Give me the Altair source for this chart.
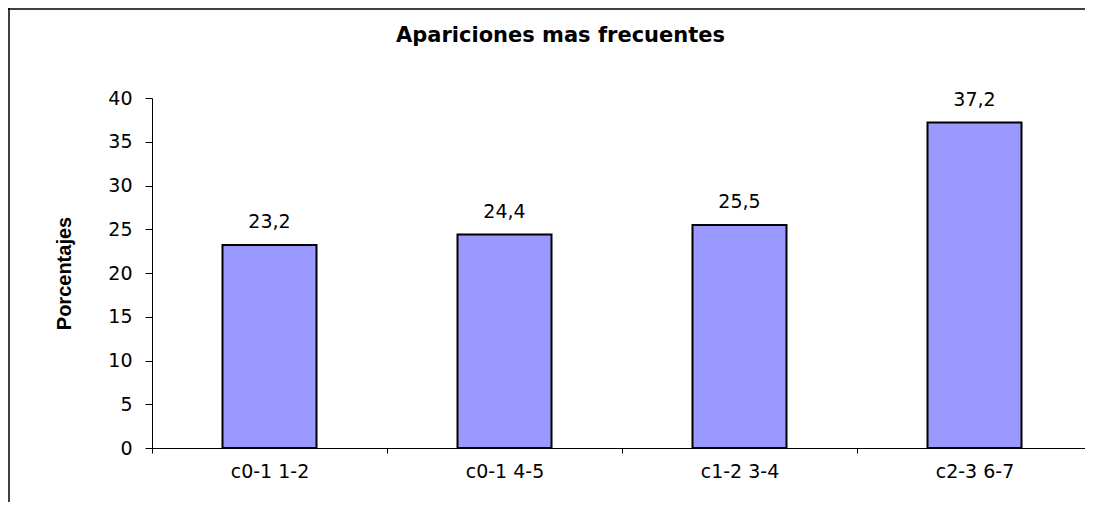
import altair as alt
import pandas as pd

categories = ["c0-1 1-2", "c0-1 4-5", "c1-2 3-4", "c2-3 6-7"]
values = [23.2, 24.4, 25.5, 37.2]
labels = ["23,2", "24,4", "25,5", "37,2"]
y_ticks = [0, 5, 10, 15, 20, 25, 30, 35, 40]

df = pd.DataFrame({"cat": categories, "val": values, "lab": labels})

FONT = "DejaVu Sans"
TFONT = "Liberation Sans"

x_enc = alt.X("cat:N", sort=categories, title=None,
              scale=alt.Scale(range=[0, 940], paddingInner=0, paddingOuter=0),
              axis=alt.Axis(labelAngle=0, tickBand="extent", labelFontSize=19,
                            labelFont=FONT, labelColor="#000", labelPadding=9,
                            tickSize=5, tickColor="#000", domainColor="#000",
                            domainWidth=1, tickWidth=1, grid=False))
y_enc = alt.Y("val:Q", scale=alt.Scale(domain=[0, 40], nice=False),
              title="Porcentajes",
              axis=alt.Axis(values=y_ticks, labelFontSize=19, labelFont=FONT,
                            labelColor="#000", labelPadding=13, tickSize=7,
                            tickColor="#000", domainColor="#000", grid=False,
                            titleFont=TFONT, titleFontSize=20, titleFontWeight="bold",
                            titleColor="#000", titleX=-88, titleY=175,
                            titleAngle=270, titleAlign="center",
                            titleBaseline="middle"))

bars = alt.Chart(df).mark_bar(
    width=alt.RelativeBandSize(0.4), color="#9999FF", stroke="#000",
    strokeWidth=2
).encode(x=x_enc, y=y_enc)

text = alt.Chart(df).mark_text(
    baseline="alphabetic", dy=-17, fontSize=19, font=FONT, color="#000"
).encode(x=alt.X("cat:N", sort=categories), y="val:Q", text="lab:N")

frame_df = pd.DataFrame({"a": [0]})
frame_top = alt.Chart(frame_df).mark_rule(color="#000", strokeWidth=1.5).encode(
    x=alt.value(-144), x2=alt.value(1000), y=alt.value(-89))
frame_left = alt.Chart(frame_df).mark_rule(color="#000", strokeWidth=1.5).encode(
    x=alt.value(-143), y=alt.value(-90), y2=alt.value(404))

chart = alt.layer(bars, text, frame_top, frame_left).properties(
    width=933, height=350,
    title=alt.Title("Apariciones mas frecuentes", font=FONT, fontSize=21,
                    fontWeight="bold", color="#000", anchor="middle",
                    baseline="alphabetic", dx=-58, dy=56, offset=0),
    autosize=alt.AutoSizeParams(type="none"),
    padding={"left": 144, "top": 90, "right": 0, "bottom": 54},
).configure_view(stroke=None)

chart.save("out.html", embed_options={"renderer": "svg", "actions": False})
